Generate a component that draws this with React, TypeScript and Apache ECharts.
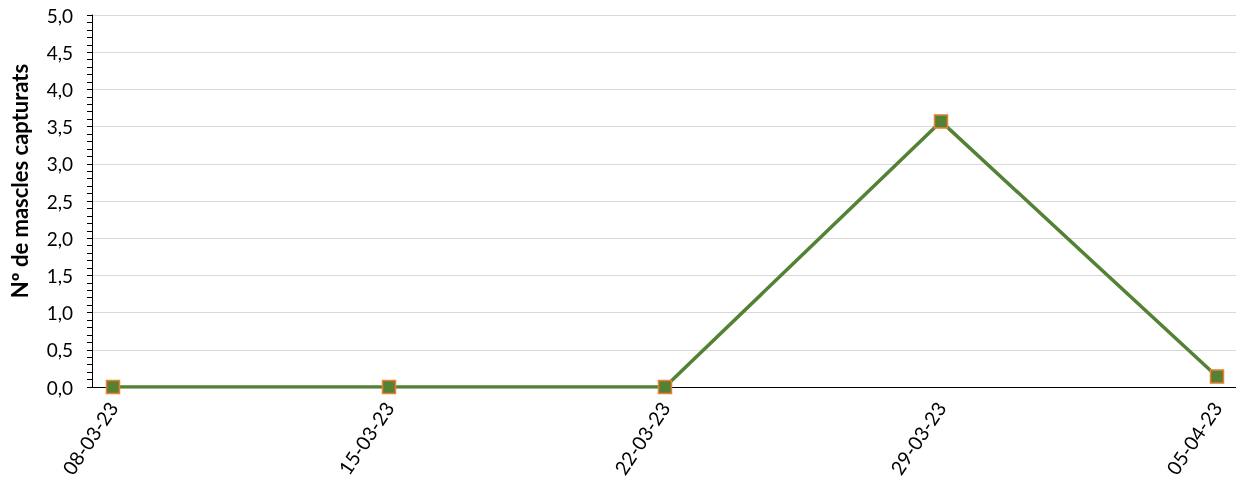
import React, { useEffect, useRef } from "react";
import * as echarts from "echarts";

const categories = ["08-03-23", "15-03-23", "22-03-23", "29-03-23", "05-04-23"];
const values = [0, 0, 0, 3.57, 0.14];
const yName = "Nº de mascles capturats";
const yMin = 0;
const yMax = 5;
const yStep = 0.5;

export default function App() {
  const ref = useRef<HTMLDivElement>(null);
  useEffect(() => {
    if (!ref.current) return;
    const chart = echarts.init(ref.current, null, { renderer: "svg" });
    const font = "Lato, 'Open Sans', sans-serif";
    const fmt = (v: number) => v.toFixed(1).replace(".", ",");
    chart.setOption({
      animation: false,
      grid: [
        { left: 92, right: 0, top: 15, bottom: 95, containLabel: false, outerBoundsMode: "none" },
        { left: 113, right: 19, top: 15, bottom: 95, containLabel: false, outerBoundsMode: "none" },
      ],
      xAxis: [
        {
          gridIndex: 0,
          type: "value",
          min: 0,
          max: 1,
          axisLine: { show: true, onZero: false, lineStyle: { color: "#000", width: 1 } },
          axisTick: { show: false },
          axisLabel: { show: false },
          splitLine: { show: false },
        },
        {
          gridIndex: 1,
          type: "category",
          data: categories,
          boundaryGap: false,
          axisLine: { show: false },
          axisTick: { show: false },
          axisLabel: {
            rotate: 56,
            margin: 17,
            fontSize: 19.5,
            fontFamily: font,
            color: "#000",
            interval: 0,
          },
          splitLine: { show: false },
        },
      ],
      yAxis: [
        {
          gridIndex: 0,
          type: "value",
          min: yMin,
          max: yMax,
          interval: yStep,
          name: yName,
          nameLocation: "middle",
          nameGap: 62,
          nameTextStyle: {
            fontSize: 22,
            fontWeight: "bold",
            fontFamily: font,
            color: "#000",
            padding: [0, 0, 0, 40],
          },
          axisLine: { show: true, lineStyle: { color: "#000", width: 1 } },
          axisTick: { show: true, length: 5, lineStyle: { color: "#000" } },
          minorTick: { show: true, splitNumber: 5, length: 5, lineStyle: { color: "#000" } },
          axisLabel: {
            formatter: fmt,
            fontSize: 19,
            fontFamily: font,
            color: "#000",
            margin: 19,
          },
          splitLine: { show: true, lineStyle: { color: "#d9d9d9", width: 1 } },
        },
        {
          gridIndex: 1,
          type: "value",
          min: yMin,
          max: yMax,
          interval: yStep,
          show: false,
          splitLine: { show: false },
        },
      ],
      series: [
        {
          type: "line",
          xAxisIndex: 1,
          yAxisIndex: 1,
          data: values,
          symbol: "rect",
          symbolSize: 13,
          lineStyle: { color: "#548235", width: 3.5 },
          itemStyle: { color: "#548235", borderColor: "#ED7D31", borderWidth: 1.5 },
        },
      ],
    });
    return () => chart.dispose();
  }, []);
  return (
    <div
      ref={ref}
      style={{ position: "fixed", left: 0, top: 0, width: 1236, height: 482 }}
    />
  );
}
